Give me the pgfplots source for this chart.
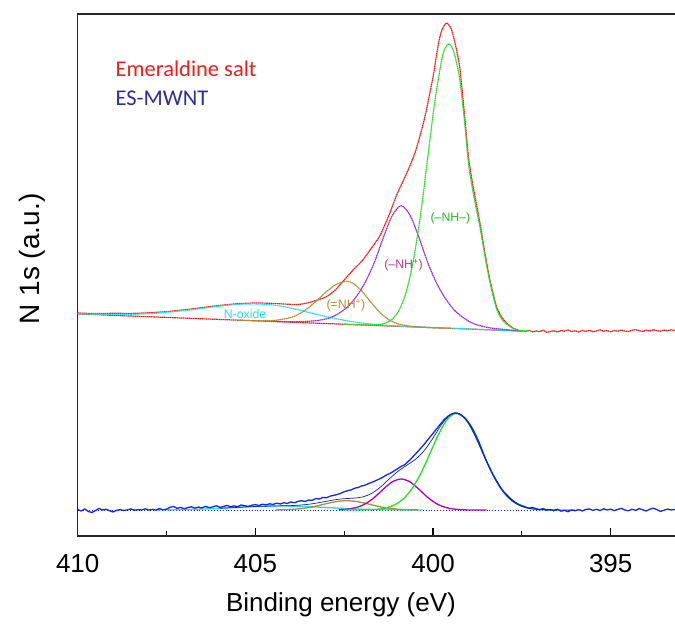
\documentclass[border=0pt]{standalone}
\usepackage{pgfplots}
\pgfplotsset{compat=1.18}
\usepackage{fontspec}
\setmainfont{Liberation Sans}
\newfontfamily\calib{Carlito}
\definecolor{cred}{RGB}{235,30,30}
\definecolor{cgreen}{RGB}{40,220,40}
\definecolor{cpurp}{RGB}{150,50,205}
\definecolor{cbrown}{RGB}{178,140,50}
\definecolor{ccyan}{RGB}{30,225,235}
\definecolor{cblue}{RGB}{20,40,230}
\definecolor{cpurp2}{RGB}{175,0,200}
\definecolor{cmwnt}{RGB}{45,45,155}
\definecolor{cnhp}{RGB}{175,60,150}
\begin{document}
\begin{tikzpicture}
\begin{axis}[
 at={(77.7pt,90pt)}, anchor=south west,
 width=602.3pt, height=522pt, scale only axis,
 xmin=393.05, xmax=410, x dir=reverse, ymin=0, ymax=522,
 xtick={395,400,405,410}, minor xtick={397.5,402.5,407.5}, xtick pos=bottom, ytick=\empty,
 tick align=inside, major tick length=8pt, minor tick length=4.5pt,
 every tick/.style={black, line width=1.2pt},
 axis line style={line width=1.5pt, black!85},
 ticklabel style={font=\fontsize{26}{30}\selectfont},
 xticklabel style={yshift=-15pt},
 /pgf/number format/assume math mode=true,
 /pgf/number format/1000 sep={},
 top dots/.style={line width=1.2pt, dash pattern=on 1.6pt off 0.5pt},
]
% ---------- top: Emeraldine salt ----------
\addplot[cred, top dots, smooth, tension=0.4] coordinates {
(410,223) (409.5,222.4) (409,222.7) (408.5,222.6) (408,223.2) (407.5,224.4) (407,226.2)
(406.5,228.4) (406,230.6) (405.5,232.3) (405,233) (404.5,232.6) (404,231.6) (403.75,231.7)
(403.5,233.4) (403.25,236) (403,239.3) (402.75,246) (402.5,256) (402.25,266) (402,275)
(401.75,287) (401.5,300) (401.25,320) (401,343) (400.75,362) (400.5,384) (400.25,416)
(400,459) (399.85,492) (399.75,506) (399.62,513) (399.5,508) (399.4,496) (399.25,469)
(399.1,416) (399,378) (398.87,349) (398.68,313) (398.54,283) (398.4,256) (398.21,229)
(398.05,218) (397.93,213) (397.75,208) (397.56,205.3)};
\addplot[cred, top dots] coordinates {
(397.56,205.3) (397.4,204.8) (397.3,205.6) (397.2,204.2) (397.1,205.0) (397.0,204.4) (396.9,205.8)
(396.8,203.6) (396.7,204.6) (396.6,205.2) (396.5,204.0) (396.4,205.4) (396.3,204.8) (396.2,206.0)
(396.1,204.4) (396.0,205.2) (395.9,204.0) (395.8,205.6) (395.7,204.6) (395.6,205.8) (395.5,204.2)
(395.4,205.0) (395.3,206.2) (395.2,204.8) (395.1,205.4) (395.0,204.2) (394.9,205.6) (394.8,204.8)
(394.7,206.0) (394.6,205.0) (394.5,204.4) (394.4,205.8) (394.3,206.4) (394.2,205.2) (394.1,204.6)
(394.0,205.8) (393.9,205.0) (393.8,206.2) (393.7,205.4) (393.6,204.8) (393.5,206.0) (393.4,205.2)
(393.3,206.2) (393.2,205.6) (393.05,205.2)};
% baseline
\addplot[cred, top dots] coordinates {(410,222) (397.56,205)};
% N-oxide
\addplot[ccyan, top dots, smooth] coordinates {
(410,222.2) (409,221.4) (408,222.3) (407,225.4) (406.5,227.6) (406,229.9) (405.5,231.6)
(405,232.1) (404.5,231.0) (404,227.9) (403.5,223.6) (403,219.3) (402.5,215.7) (402,213.0)
(401.5,211.2) (401,210.0) (400,208.3) (399,207.0) (398,205.6) (397.5,205.0)};
% =NH+
\addplot[cbrown, top dots, smooth] coordinates {
(405.5,215.9) (405,215.3) (404.5,215.4) (404,218.5) (403.75,222.4) (403.5,228.4) (403.25,236.1)
(403,244.3) (402.75,251.1) (402.5,254.5) (402.42,254.7) (402.25,252.7) (402,244.8) (401.75,233.8)
(401.5,223.7) (401.25,216.4) (401,212.3) (400.75,210.3) (400.5,209.3) (400,208.3) (399.5,207.7)};
% -NH+
\addplot[cpurp, top dots, smooth] coordinates {
(404.5,214.7) (403.89,214.3) (403.39,215.0) (403.14,216.1) (402.89,218.3) (402.64,222.9)
(402.39,229.6) (402.14,240.3) (401.89,254.9) (401.64,274.6) (401.39,299.2) (401.14,320.9)
(400.89,330.3) (400.64,320.2) (400.39,297.9) (400.14,272.5) (399.89,252.2) (399.64,236.8)
(399.39,225.5) (399.14,218.2) (398.89,212.8) (398.64,210.0) (398.39,208.1) (397.89,206.1) (397.5,205.0)};
% -NH-
\addplot[cgreen, top dots, smooth] coordinates {
(402.5,211.8) (401.855,211.0) (401.555,211.3) (401.355,212.7) (401.155,216.7) (400.955,225.8)
(400.755,244.1) (400.555,275.1) (400.355,320.4) (400.155,376.5) (399.955,433.4) (399.755,476.2)
(399.655,488.1) (399.555,492.0) (399.455,488) (399.355,476) (399.25,457) (399.155,428) (399.1,410)
(399.0,372) (398.87,343) (398.68,309) (398.54,280) (398.40,254) (398.21,227) (398.05,216)
(397.93,212) (397.75,207.5) (397.56,205.5) (397.3,205)};
% ---------- bottom: ES-MWNT ----------
\addplot[cblue, line width=0.9pt, dotted] coordinates {(410,26) (396,26)};
\addplot[ccyan, line width=1.3pt, smooth] coordinates {
(407.8,26.1) (407.3,26.3) (406.8,26.6) (406.3,27.2) (405.8,28.1) (405.3,29.0) (404.8,29.7) (404.3,30.0)
(403.8,29.7) (403.3,29.0) (402.8,28.1) (402.3,27.2) (401.8,26.6) (401.3,26.3) (400.8,26.1) (400.3,26.0)};
\addplot[cbrown, line width=1.3pt, smooth] coordinates {
(404.43,26.1) (404.18,26.25) (403.93,26.65) (403.68,27.5) (403.43,28.8) (403.18,30.8) (402.93,32.9)
(402.68,34.6) (402.43,35.3) (402.18,34.6) (401.93,32.9) (401.68,30.8) (401.43,28.8) (401.18,27.5)
(400.93,26.65) (400.68,26.25) (400.43,26.1)};
\addplot[cpurp2, line width=1.3pt, smooth] coordinates {
(402.65,26.2) (402.4,26.9) (402.15,28.6) (401.9,32.3) (401.65,38.6) (401.4,46.8) (401.15,54.1)
(400.9,57) (400.65,54.1) (400.4,46.8) (400.15,38.6) (399.9,32.3) (399.65,28.6) (399.4,26.9)
(399.15,26.2) (398.9,26.0) (398.5,26.0)};
\addplot[cgreen, line width=1.3pt, smooth] coordinates {
(402.5,26.0) (401.84,26.2) (401.59,26.7) (401.34,28.0) (401.09,31.0) (400.84,37.0) (400.59,47.4)
(400.34,62.9) (400.09,82.2) (399.84,102.0) (399.59,117.0) (399.34,122.7) (399.09,117.0) (398.84,102.0)
(398.59,82.2) (398.34,62.9) (398.09,47.4) (397.84,37.0) (397.59,31.0) (397.34,28.0) (397.09,26.7)
(396.84,26.2) (396.5,26.0)};
\addplot[cblue, line width=1.3pt] coordinates {
(410.0,26.5) (409.9,25.0) (409.8,27.0) (409.7,24.5) (409.6,23.5) (409.5,25.5) (409.4,27.5) (409.3,26.0)
(409.2,26.8) (409.1,25.2) (409.0,24.0) (408.9,25.8) (408.8,26.3) (408.7,25.5) (408.6,26.2) (408.5,27.0)
(408.4,25.8) (408.3,26.4) (408.2,26.0) (408.1,27.2) (408.0,26.0) (407.9,26.6) (407.8,25.9) (407.7,27.4)
(407.6,26.2) (407.5,26.8) (407.4,28.8) (407.3,29.5) (407.2,27.6) (407.1,28.6) (407.0,27.2) (406.9,28.4)
(406.8,29.2) (406.7,27.8) (406.6,28.9) (406.5,28.0) (406.4,29.6) (406.3,28.3) (406.2,29.1) (406.1,30.2)
(406.0,28.7) (405.9,29.5) (405.8,30.6) (405.7,29.2) (405.6,30.1) (405.5,29.4) (405.4,31.0) (405.3,30.2)
(405.2,29.6) (405.1,30.8) (405.0,31.4) (404.9,30.5) (404.8,31.8) (404.7,31.0) (404.6,32.2) (404.5,31.6)
(404.4,32.8) (404.3,32.0) (404.2,33.3) (404.1,32.6) (404.0,34.0) (403.9,33.2) (403.8,34.6) (403.7,35.3)
(403.6,34.5) (403.5,36.0) (403.4,35.6) (403.3,37.5) (403.2,37.0) (403.1,38.6) (403.0,38.2) (402.9,39.8)
(402.8,40.6) (402.7,41.5) (402.6,42.6) (402.5,44.2) (402.4,45.3) (402.3,46.2) (402.2,47.8) (402.1,48.6)
(402.0,50.2) (401.9,51.0) (401.8,52.7) (401.7,54.0) (401.6,55.6) (401.5,57.2) (401.4,59.0) (401.3,61.3)
(401.2,62.8) (401.1,65.0) (401.0,67.2) (400.9,69.6) (400.8,71.2) (400.7,74.5) (400.6,78.0) (400.5,81.8)
(400.4,85.6) (400.3,89.6) (400.2,93.8) (400.1,98.4) (400.0,102.6) (399.9,107.2) (399.8,111.6) (399.7,115.8)
(399.6,119.3) (399.5,121.6) (399.4,123.0) (399.3,122.4) (399.2,120.8) (399.1,118.0) (399.0,113.6) (398.9,108.0)
(398.8,101.2) (398.7,93.4) (398.6,84.0) (398.5,75.2) (398.4,67.8) (398.3,60.6) (398.2,54.4) (398.1,48.6)
(398.0,43.8) (397.9,40.2) (397.8,36.8) (397.7,34.0) (397.6,31.8) (397.5,30.4) (397.4,29.0) (397.3,27.8)
(397.2,28.6) (397.1,27.2) (397.0,26.4) (396.9,27.4) (396.8,25.8) (396.7,26.6) (396.6,25.2) (396.5,26.8)
(396.4,24.8) (396.3,25.6) (396.2,24.4) (396.1,26.0) (396.0,25.2) (395.9,26.4) (395.8,25.0) (395.7,26.6)
(395.6,27.0) (395.5,25.6) (395.4,26.8) (395.3,25.4) (395.2,27.2) (395.1,26.0) (395.0,26.8) (394.9,25.4)
(394.8,26.6) (394.7,27.6) (394.6,26.0) (394.5,25.2) (394.4,26.8) (394.3,25.6) (394.2,27.4) (394.1,26.2)
(394.0,25.0) (393.9,26.8) (393.8,27.8) (393.7,26.4) (393.6,24.6) (393.5,25.8) (393.4,27.0) (393.3,26.0)
(393.2,26.6) (393.05,26.0)};
\addplot[cblue!80!black, line width=0.7pt, smooth] coordinates {
(406,27.7) (405.5,28.6) (405,29.5) (404.5,30.0) (404,30.4) (403.75,30.9) (403.5,31.7) (403.25,33.1)
(403,34.7) (402.75,36.3) (402.5,37.3) (402.25,37.8) (402,38.9) (401.75,42.2) (401.5,48.3) (401.25,56.5)
(401,64.3) (400.75,70.5) (400.5,76.5) (400.25,85.3) (400,98.0) (399.75,112.0) (399.5,121.7) (399.25,122.3)
(399,112.6) (398.75,95.1) (398.5,75.0) (398.25,56.7) (398,43.1) (397.75,34.4) (397.5,29.7) (397.25,27.4)
(397,26.5) (396.5,26.05) (396,26)};
% ---------- labels ----------
\node[anchor=west, text=cred, font=\calib\fontsize{22.5}{26}\selectfont] at (axis cs:409.03,467) {Emeraldine salt};
\node[anchor=west, text=cmwnt, font=\calib\fontsize{22.5}{26}\selectfont] at (axis cs:409.03,438) {ES-MWNT};
\node[text=cgreen!85!black, font=\fontsize{12.3}{14}\selectfont] at (axis cs:399.51,318) {(–NH–)};
\node[text=cnhp, font=\fontsize{12.3}{14}\selectfont] at (axis cs:400.83,271) {(–NH\textsuperscript{+})};
\node[text=cbrown, font=\fontsize{12.3}{14}\selectfont] at (axis cs:402.45,231) {(=NH\textsuperscript{+})};
\node[text=ccyan, font=\fontsize{12.3}{14}\selectfont] at (axis cs:405.29,222) {N-oxide};
\end{axis}
\node[font=\fontsize{26}{30}\selectfont] at (341pt,21pt) {Binding energy (eV)};
\node[rotate=90, font=\fontsize{28}{32}\selectfont] at (32.7pt,367pt) {N 1s (a.u.)};
\pgfresetboundingbox
\useasboundingbox (0,0) rectangle (675pt,626pt);
\end{tikzpicture}
\end{document}
